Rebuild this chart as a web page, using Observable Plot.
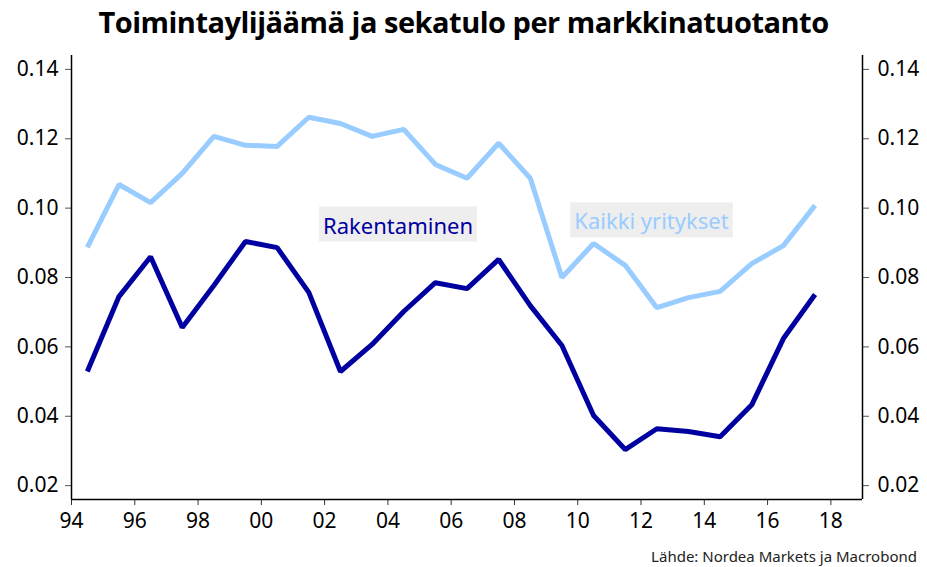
<!DOCTYPE html>
<html>
<head>
<meta charset="utf-8">
<script src="https://cdn.jsdelivr.net/npm/d3@7"></script>
<script src="https://cdn.jsdelivr.net/npm/@observablehq/plot@0.6"></script>
<style>
  html, body { margin: 0; padding: 0; background: #fff; }
  #wrap { position: relative; width: 927px; height: 567px; overflow: hidden; }
  #title { position: absolute; left: 0; top: 2px; width: 927px; text-align: center;
           font-family: "Open Sans", sans-serif; font-weight: 700; font-size: 29px;
           letter-spacing: -0.5px; color: #000; }
  #source { position: absolute; right: 10px; top: 546px; font-family: "Noto Sans", sans-serif;
            font-size: 15px; color: #222; }
  #chart { position: absolute; left: 0; top: 0; }
</style>
</head>
<body>
<div id="wrap">
  <div id="chart"></div>
  <div id="title">Toimintaylijäämä ja sekatulo per markkinatuotanto</div>
  <div id="source">Lähde: Nordea Markets ja Macrobond</div>
</div>
<script>
const years = [1994.5,1995.5,1996.5,1997.5,1998.5,1999.5,2000.5,2001.5,2002.5,2003.5,2004.5,2005.5,
               2006.5,2007.5,2008.5,2009.5,2010.5,2011.5,2012.5,2013.5,2014.5,2015.5,2016.5,2017.5];
const kaikki = [0.0887,0.1068,0.1016,0.1100,0.1207,0.1181,0.1178,0.1262,0.1244,0.1207,0.1227,0.1126,
                0.1086,0.1187,0.1086,0.0800,0.0898,0.0835,0.0713,0.0742,0.0760,0.0840,0.0892,0.1008];
const rakentaminen = [0.0529,0.0745,0.0860,0.0656,0.0777,0.0904,0.0886,0.0757,0.0529,0.0607,0.0702,0.0785,
                      0.0768,0.0852,0.0719,0.0604,0.0402,0.0304,0.0364,0.0356,0.0341,0.0433,0.0624,0.0751];
const xDomain = [1994, 2019];
const yDomain = [0.016, 0.144];
const xTicks = [1994,1996,1998,2000,2002,2004,2006,2008,2010,2012,2014,2016,2018];
const yTicks = [0.02,0.04,0.06,0.08,0.10,0.12,0.14];
const seriesNames = ["Kaikki yritykset", "Rakentaminen"];
const seriesColors = ["#99ccff", "#0000a0"];
const labels = [
  {name: "Rakentaminen", x: 2004.32, y: 0.0947, color: "#0000a0"},
  {name: "Kaikki yritykset", x: 2012.33, y: 0.0959, color: "#99ccff"}
];

const data = [];
years.forEach((yr, i) => {
  data.push({year: yr, value: kaikki[i], series: seriesNames[0]});
  data.push({year: yr, value: rakentaminen[i], series: seriesNames[1]});
});

const fmtYear = d => String(d % 100).padStart(2, "0");
const fmtY = d3.format(".2f");

const chart = Plot.plot({
  width: 927,
  height: 567,
  marginTop: 55,
  marginBottom: 68,
  marginLeft: 71,
  marginRight: 65,
  style: {fontFamily: "Noto Sans, sans-serif", fontSize: "21px", color: "#000", background: "transparent"},
  x: {domain: xDomain},
  y: {domain: yDomain},
  color: {domain: seriesNames, range: seriesColors},
  marks: [
    Plot.axisX({ticks: xTicks, tickFormat: fmtYear, tickSize: 6, tickPadding: 8, label: null, fontSize: 21, stroke: "#333"}),
    Plot.axisY({anchor: "left", ticks: yTicks, tickFormat: fmtY, tickSize: 6, tickPadding: 7, label: null, fontSize: 21, stroke: "#555"}),
    Plot.axisY({anchor: "right", ticks: yTicks, tickFormat: fmtY, tickSize: 6, tickPadding: 9, label: null, fontSize: 21, stroke: "#555"}),
    Plot.ruleY([yDomain[0]], {stroke: "#000", strokeWidth: 1.5}),
    Plot.ruleX([xDomain[0]], {stroke: "#000", strokeWidth: 1.5}),
    Plot.ruleX([xDomain[1]], {stroke: "#000", strokeWidth: 1.5}),
    Plot.line(data, {x: "year", y: "value", z: "series", stroke: "series", strokeWidth: 5, strokeLinejoin: "miter", strokeLinecap: "butt"}),
    Plot.text(labels, {x: "x", y: "y", text: "name", fill: "color", fontSize: 22, className: "lbl"})
  ]
});
document.getElementById("chart").appendChild(chart);

// grey background boxes behind the in-chart labels
chart.querySelectorAll("g.lbl text").forEach(t => {
  const b = t.getBBox();
  const r = document.createElementNS("http://www.w3.org/2000/svg", "rect");
  r.setAttribute("x", b.x - 4);
  r.setAttribute("y", b.y - 3);
  r.setAttribute("width", b.width + 8);
  r.setAttribute("height", b.height + 5);
  r.setAttribute("fill", "#eeeeee");
  const tr = t.getAttribute("transform");
  if (tr) r.setAttribute("transform", tr);
  t.parentNode.insertBefore(r, t);
});
</script>
</body>
</html>
